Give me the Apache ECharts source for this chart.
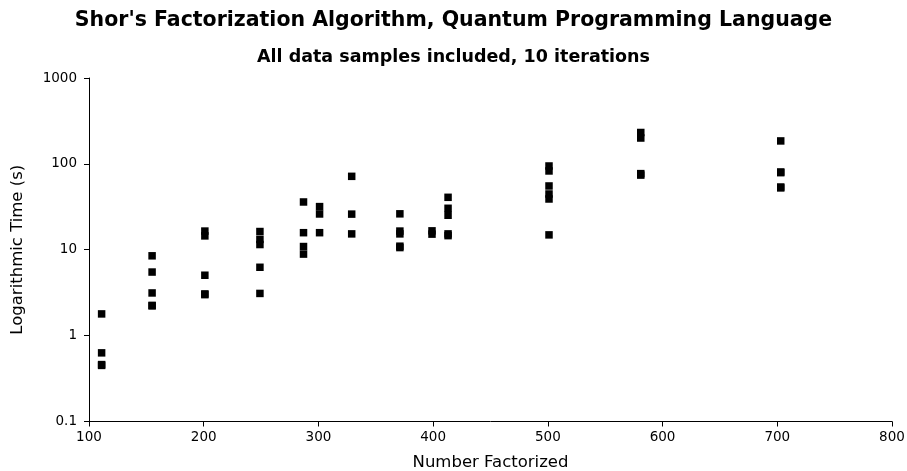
<!DOCTYPE html>
<html>
<head>
<meta charset="utf-8">
<script src="https://cdn.jsdelivr.net/npm/echarts@6/dist/echarts.min.js"></script>
<style>html,body{margin:0;padding:0;background:#fff;}#c{width:907px;height:471px;}</style>
</head>
<body>
<div id="c"></div>
<script>
const titleText = "Shor's Factorization Algorithm, Quantum Programming Language";
const subtitleText = "All data samples included, 10 iterations";
const xAxisName = "Number Factorized";
const yAxisName = "Logarithmic Time (s)";
const numbers = [111, 155, 201, 249, 287, 301, 329, 371, 399, 413, 501, 581, 703];
const times = [
  [1.79, 0.63, 0.46, 0.45],
  [8.5, 5.5, 3.14, 2.22, 2.25],
  [16.5, 14.5, 5.05, 3.06, 3.0],
  [16.3, 13.2, 11.5, 6.25, 3.1],
  [36, 15.8, 10.9, 8.9],
  [31.8, 26.1, 15.8],
  [71.6, 26, 15.3],
  [26.2, 16.5, 15.3, 11.0, 10.6],
  [16.6, 15.2],
  [40.8, 30.4, 25.2, 15.3, 14.6],
  [94.5, 82.7, 55.3, 44.6, 39, 14.9],
  [232, 200, 77, 74],
  [185, 80.5, 79, 53.8, 52.5]
];
const points = [];
numbers.forEach((n, i) => times[i].forEach(t => points.push([n, t])));

const el = document.getElementById('c');
const chart = echarts.init(el, null, {renderer: 'canvas'});
const font = 'DejaVu Sans';
chart.setOption({
  animation: false,
  backgroundColor: '#fff',
  title: [
    {text: titleText, left: 'center', top: 5, textStyle: {fontFamily: font, fontSize: 20.5, fontWeight: 'bold', color: '#000'}},
    {text: subtitleText, left: 'center', top: 43, textStyle: {fontFamily: font, fontSize: 17.5, fontWeight: 'bold', color: '#000'}}
  ],
  grid: {left: 89, top: 78, width: 803, height: 343.5, containLabel: false, outerBoundsMode: 'none'},
  xAxis: {
    type: 'value', min: 100, max: 800, interval: 100,
    name: xAxisName, nameLocation: 'middle', nameGap: 33,
    nameTextStyle: {fontFamily: font, fontSize: 16.5, color: '#000'},
    axisLine: {show: true, lineStyle: {color: '#000', width: 1}},
    axisTick: {show: true, length: 5, lineStyle: {color: '#000'}},
    axisLabel: {fontFamily: font, fontSize: 13.5, color: '#000', margin: 9},
    splitLine: {show: false}
  },
  yAxis: {
    type: 'log', logBase: 10, min: 0.1, max: 1000,
    name: yAxisName, nameLocation: 'middle', nameGap: 63, nameRotate: 90,
    nameTextStyle: {fontFamily: font, fontSize: 16.5, color: '#000'},
    axisLine: {show: true, lineStyle: {color: '#000', width: 1}},
    axisTick: {show: true, length: 5, lineStyle: {color: '#000'}},
    axisLabel: {fontFamily: font, fontSize: 13.5, color: '#000', margin: 12,
      formatter: v => String(+v.toPrecision(6))},
    splitLine: {show: false},
    minorTick: {show: false}
  },
  series: [{
    type: 'scatter', symbol: 'rect', symbolSize: 7.5,
    itemStyle: {color: '#000', opacity: 1},
    data: points
  }]
});
</script>
</body>
</html>
